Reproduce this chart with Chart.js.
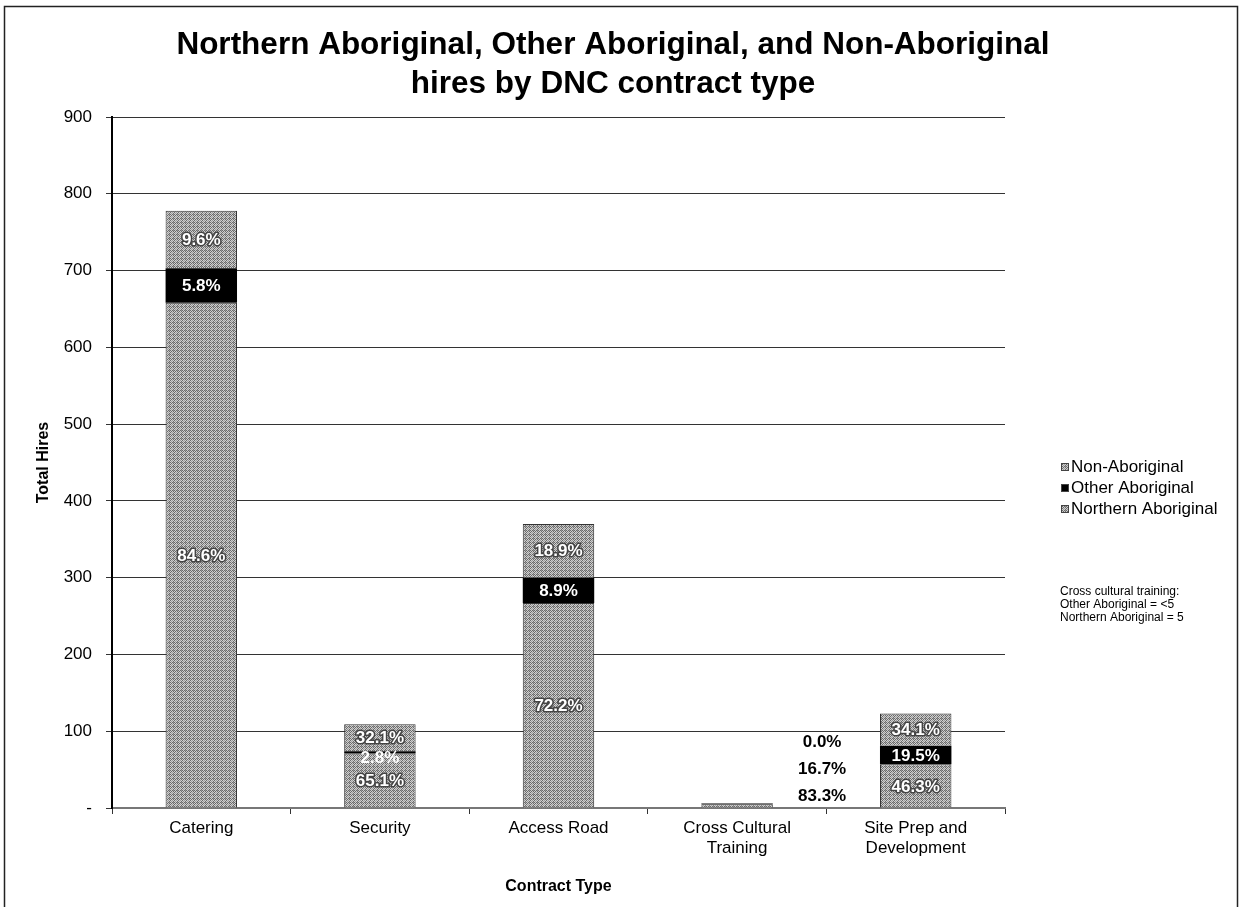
<!DOCTYPE html>
<html>
<head>
<meta charset="utf-8">
<script src="https://cdn.jsdelivr.net/npm/chart.js@4/dist/chart.umd.min.js"></script>
<style>
  body { margin: 0; background: #fff; }
  canvas { display: block; }
</style>
</head>
<body>
<canvas id="c" width="1240" height="907"></canvas>
<script>
const categories = ['Catering', 'Security', 'Access Road', ['Cross Cultural', 'Training'], ['Site Prep and', 'Development']];
const northern = [658, 71, 267, 5, 57];
const otherAbo = [45, 3, 33, 1, 24];
const nonAbo = [75, 35, 70, 0, 42];
const yTicks = [0, 100, 200, 300, 400, 500, 600, 700, 800, 900];
const note = ['Cross cultural training:', 'Other Aboriginal = <5', 'Northern Aboriginal = 5'];

const FONT = 'Liberation Sans, Arial, sans-serif';

function dither() {
  const c = document.createElement('canvas');
  c.width = 4; c.height = 4;
  const g = c.getContext('2d');
  for (let y = 0; y < 4; y++) {
    for (let x = 0; x < 4; x++) {
      g.fillStyle = (x + y) % 2 ? '#cfcfcf' : '#6a6a6a';
      if ((x * 3 + y) % 5 === 0) g.fillStyle = '#9a9a9a';
      g.fillRect(x, y, 1, 1);
    }
  }
  return g.createPattern(c, 'repeat');
}
const grey = dither();

const totals = northern.map((v, i) => v + otherAbo[i] + nonAbo[i]);
const pct = (v, i) => (totals[i] ? (v / totals[i] * 100) : 0).toFixed(1) + '%';

const decor = {
  id: 'decor',
  afterDraw(chart) {
    const ctx = chart.ctx;
    ctx.save();
    // frame
    ctx.strokeStyle = '#222';
    ctx.lineWidth = 1.5;
    ctx.strokeRect(4.5, 6.5, 1233, 920);
    // title
    ctx.fillStyle = '#000';
    ctx.textAlign = 'center';
    ctx.textBaseline = 'middle';
    ctx.font = 'bold 31.5px ' + FONT;
    ctx.fillText('Northern Aboriginal, Other Aboriginal, and Non-Aboriginal', 613, 45);
    ctx.fillText('hires by DNC contract type', 613, 84);

    // legend
    const items = [['Non-Aboriginal', grey], ['Other Aboriginal', '#000'], ['Northern Aboriginal', grey]];
    ctx.font = '17px ' + FONT;
    ctx.textAlign = 'left';
    items.forEach((it, k) => {
      const y = 467 + k * 21;
      ctx.fillStyle = it[1];
      ctx.fillRect(1061, y - 4, 8, 8);
      ctx.strokeStyle = '#444';
      ctx.lineWidth = 1;
      ctx.strokeRect(1061.5, y - 3.5, 7, 7);
      ctx.fillStyle = '#000';
      ctx.fillText(it[0], 1071, y);
    });

    // note
    ctx.font = '12px ' + FONT;
    note.forEach((t, k) => ctx.fillText(t, 1060, 592 + k * 13));
    ctx.restore();
  },
  afterDatasetsDraw(chart) {
    const ctx = chart.ctx;
    ctx.save();
    ctx.font = 'bold 17px ' + FONT;
    ctx.textAlign = 'center';
    ctx.textBaseline = 'middle';
    ctx.lineJoin = 'round';
    const sets = [northern, otherAbo, nonAbo];
    chart.data.datasets.forEach((ds, d) => {
      const meta = chart.getDatasetMeta(d);
      meta.data.forEach((bar, i) => {
        const txt = pct(sets[d][i], i);
        if (totals[i] < 20) {
          const x = bar.x + 85;
          const y = chart.scales.y.getPixelForValue(0) - 12 - d * 27;
          ctx.fillStyle = '#000';
          ctx.fillText(txt, x, y);
          return;
        }
        let y = (bar.y + bar.base) / 2;
        if (d === 1 && i === 1) y += 5;
        if (d === 1) {
          ctx.fillStyle = '#fff';
          ctx.fillText(txt, bar.x, y + 1);
        } else {
          ctx.strokeStyle = '#444';
          ctx.lineWidth = 3;
          ctx.strokeText(txt, bar.x, y + 1);
          ctx.fillStyle = '#fff';
          ctx.fillText(txt, bar.x, y + 1);
        }
      });
    });
    ctx.restore();
  }
};

new Chart(document.getElementById('c'), {
  type: 'bar',
  data: {
    labels: categories,
    datasets: [
      { label: 'Northern Aboriginal', data: northern, backgroundColor: grey, borderColor: '#333', borderWidth: 1 },
      { label: 'Other Aboriginal', data: otherAbo, backgroundColor: '#000', borderColor: '#000', borderWidth: 0 },
      { label: 'Non-Aboriginal', data: nonAbo, backgroundColor: grey, borderColor: '#333', borderWidth: 1 }
    ]
  },
  options: {
    responsive: false,
    animation: false,
    layout: { padding: { top: 117, right: 235, left: 0, bottom: 0 } },
    datasets: { bar: { categoryPercentage: 1, barPercentage: 0.4 } },
    plugins: { legend: { display: false }, tooltip: { enabled: false } },
    scales: {
      x: {
        stacked: true,
        afterFit: s => { s.height = 99; },
        grid: { offset: true, drawOnChartArea: false, tickLength: 6, color: '#333' },
        border: { color: '#777', width: 2 },
        ticks: { color: '#000', font: { family: FONT, size: 17 }, padding: 4, maxRotation: 0 },
        title: { display: true, text: 'Contract Type', color: '#000', font: { family: FONT, size: 16, weight: 'bold' }, padding: { top: 10, bottom: 11 } }
      },
      y: {
        stacked: true,
        min: 0, max: 900,
        afterFit: s => { s.width = 112; },
        afterBuildTicks: s => { s.ticks = yTicks.map(v => ({ value: v })); },
        grid: { color: '#333', lineWidth: 1, tickLength: 6 },
        border: { color: '#000', width: 2 },
        ticks: { color: '#000', font: { family: FONT, size: 17 }, padding: 14, callback: v => v === 0 ? '-' : v },
        title: { display: true, text: 'Total Hires', color: '#000', font: { family: FONT, size: 16, weight: 'bold' }, padding: { top: 34, bottom: 0 } }
      }
    }
  },
  plugins: [decor]
});
</script>
</body>
</html>
